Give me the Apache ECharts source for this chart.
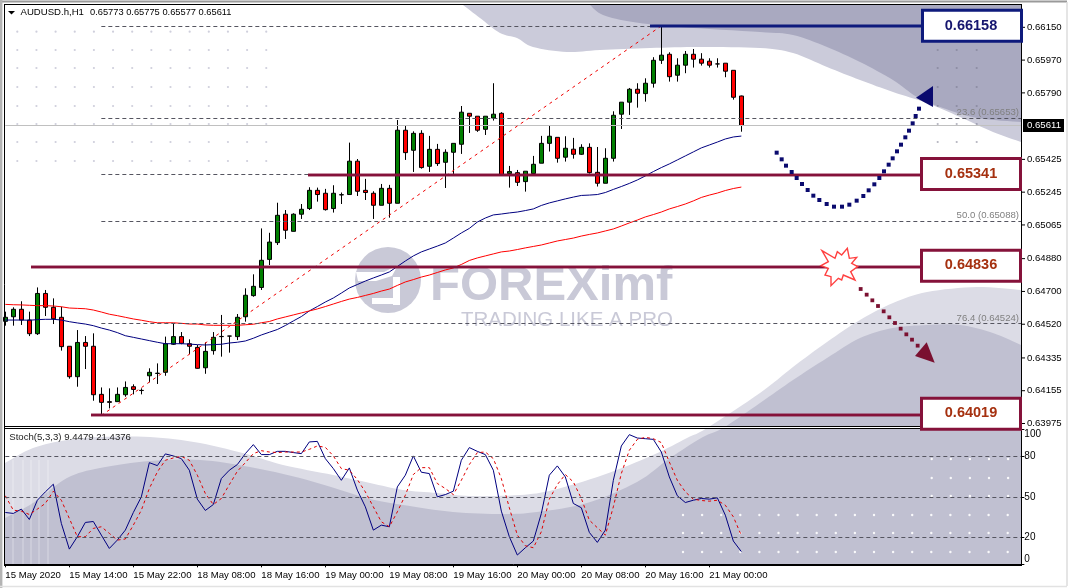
<!DOCTYPE html>
<html><head><meta charset="utf-8">
<style>html,body{margin:0;padding:0;background:#fff}#c{width:1069px;height:588px}</style>
<script src="https://cdn.jsdelivr.net/npm/echarts@6/dist/echarts.min.js"></script>
</head><body><div id="c"></div>
<script>
const tickLabels=['15 May 2020','15 May 14:00','15 May 22:00','18 May 08:00','18 May 16:00','19 May 00:00','19 May 08:00','19 May 16:00','20 May 00:00','20 May 08:00','20 May 16:00','21 May 00:00'];
const priceTicks=[0.66150,0.65970,0.65790,0.65425,0.65245,0.65065,0.64880,0.64700,0.64520,0.64335,0.64155,0.63975];
const stochTicks=[0,20,50,80,100];
const stochLevels=[80,50,20];
const fibLevels=[0.66158,0.65653,0.65341,0.65088,0.64524];
const fibLabels=[['23.6 (0.65653)',0.65653],['50.0 (0.65088)',0.65088],['76.4 (0.64524)',0.64524]];
const keyLevels=[0.66158,0.65341,0.64836,0.64019];
const keyLabels=['0.66158','0.65341','0.64836','0.64019'];
const lastPrice=0.65611;
const opens=[0.64536,0.64561,0.64602,0.64543,0.64468,0.64689,0.64613,0.64558,0.64399,0.64232,0.64420,0.64399,0.64135,0.64095,0.64095,0.64133,0.64177,0.64157,0.64237,0.64250,0.64256,0.64410,0.64452,0.64413,0.64393,0.64281,0.64375,0.64452,0.64455,0.64452,0.64561,0.64677,0.64722,0.64876,0.64968,0.65124,0.65030,0.65124,0.65155,0.65255,0.65239,0.65155,0.65230,0.65232,0.65415,0.65255,0.65239,0.65173,0.65266,0.65184,0.65585,0.65475,0.65568,0.65387,0.65480,0.65409,0.65464,0.65508,0.65678,0.65662,0.65590,0.65652,0.65678,0.65347,0.65352,0.65303,0.65347,0.65404,0.65513,0.65546,0.65437,0.65481,0.65453,0.65491,0.65354,0.65294,0.65431,0.65673,0.65739,0.65810,0.65786,0.65843,0.65969,0.66002,0.65887,0.65942,0.66002,0.65975,0.65964,0.65949,0.65953,0.65914,0.65773];
const closes=[0.64558,0.64602,0.64543,0.64468,0.64689,0.64613,0.64550,0.64397,0.64232,0.64420,0.64399,0.64133,0.64091,0.64091,0.64135,0.64173,0.64162,0.64156,0.64256,0.64251,0.64413,0.64452,0.64415,0.64399,0.64278,0.64371,0.64448,0.64453,0.64455,0.64558,0.64679,0.64728,0.64871,0.64971,0.65118,0.65036,0.65124,0.65151,0.65255,0.65232,0.65149,0.65239,0.65231,0.65415,0.65250,0.65243,0.65173,0.65266,0.65184,0.65585,0.65462,0.65568,0.65380,0.65480,0.65402,0.65464,0.65513,0.65684,0.65662,0.65585,0.65662,0.65673,0.65340,0.65358,0.65299,0.65360,0.65398,0.65513,0.65552,0.65431,0.65486,0.65453,0.65491,0.65352,0.65294,0.65431,0.65667,0.65739,0.65810,0.65788,0.65843,0.65969,0.65997,0.65879,0.65942,0.66002,0.65975,0.65953,0.65942,0.65949,0.65909,0.65766,0.65611];
const lows=[0.64512,0.64512,0.64516,0.64455,0.64461,0.64565,0.64521,0.64375,0.64221,0.64177,0.64274,0.64100,0.64019,0.64058,0.64095,0.64122,0.64135,0.64135,0.64201,0.64192,0.64237,0.64406,0.64410,0.64356,0.64276,0.64248,0.64353,0.64342,0.64364,0.64433,0.64534,0.64671,0.64708,0.64845,0.64955,0.64988,0.65030,0.65098,0.65147,0.65193,0.65144,0.65133,0.65180,0.65232,0.65224,0.65202,0.65098,0.65173,0.65105,0.65184,0.65422,0.65356,0.65374,0.65356,0.65389,0.65268,0.65345,0.65455,0.65570,0.65576,0.65559,0.65638,0.65340,0.65270,0.65279,0.65248,0.65347,0.65404,0.65468,0.65407,0.65413,0.65429,0.65449,0.65347,0.65276,0.65294,0.65413,0.65592,0.65669,0.65709,0.65742,0.65819,0.65949,0.65852,0.65852,0.65898,0.65929,0.65940,0.65929,0.65929,0.65876,0.65753,0.65577];
const highs=[0.64589,0.64613,0.64646,0.64589,0.64722,0.64708,0.64662,0.64616,0.64399,0.64488,0.64455,0.64470,0.64173,0.64168,0.64173,0.64206,0.64190,0.64168,0.64278,0.64305,0.64452,0.64525,0.64477,0.64437,0.64406,0.64420,0.64477,0.64571,0.64456,0.64576,0.64717,0.64794,0.65046,0.65022,0.65187,0.65147,0.65129,0.65180,0.65272,0.65270,0.65263,0.65283,0.65243,0.65517,0.65427,0.65318,0.65250,0.65290,0.65285,0.65641,0.65609,0.65579,0.65585,0.65554,0.65510,0.65480,0.65513,0.65718,0.65678,0.65662,0.65662,0.65843,0.65684,0.65389,0.65367,0.65360,0.65444,0.65554,0.65609,0.65546,0.65552,0.65543,0.65508,0.65513,0.65493,0.65486,0.65689,0.65739,0.65817,0.65843,0.65870,0.65986,0.66158,0.66013,0.65980,0.66020,0.66031,0.66008,0.65980,0.65980,0.65953,0.65914,0.65775];
const maSlow=[0.64629,0.64627,0.64626,0.64624,0.64622,0.64622,0.64620,0.64616,0.64609,0.64607,0.64605,0.64598,0.64587,0.64575,0.64567,0.64558,0.64549,0.64542,0.64534,0.64528,0.64528,0.64528,0.64525,0.64521,0.64521,0.64516,0.64514,0.64514,0.64514,0.64514,0.64517,0.64520,0.64528,0.64535,0.64549,0.64560,0.64571,0.64582,0.64593,0.64604,0.64617,0.64631,0.64645,0.64658,0.64667,0.64678,0.64689,0.64702,0.64713,0.64733,0.64752,0.64765,0.64779,0.64790,0.64804,0.64818,0.64829,0.64848,0.64870,0.64884,0.64895,0.64906,0.64917,0.64922,0.64930,0.64939,0.64947,0.64955,0.64966,0.64977,0.64985,0.64993,0.65004,0.65013,0.65021,0.65032,0.65043,0.65059,0.65076,0.65092,0.65109,0.65122,0.65136,0.65153,0.65166,0.65180,0.65197,0.65216,0.65229,0.65240,0.65254,0.65265,0.65273];
const maFast=[0.64543,0.64543,0.64543,0.64542,0.64545,0.64547,0.64547,0.64543,0.64534,0.64527,0.64521,0.64512,0.64499,0.64488,0.64474,0.64457,0.64448,0.64439,0.64430,0.64421,0.64413,0.64413,0.64413,0.64411,0.64408,0.64406,0.64408,0.64410,0.64417,0.64421,0.64428,0.64443,0.64461,0.64476,0.64491,0.64513,0.64538,0.64562,0.64593,0.64617,0.64642,0.64664,0.64691,0.64719,0.64738,0.64757,0.64774,0.64790,0.64807,0.64837,0.64867,0.64895,0.64917,0.64933,0.64949,0.64966,0.64993,0.65021,0.65046,0.65081,0.65103,0.65120,0.65125,0.65131,0.65136,0.65144,0.65153,0.65172,0.65186,0.65197,0.65208,0.65218,0.65227,0.65229,0.65232,0.65243,0.65260,0.65276,0.65293,0.65312,0.65334,0.65358,0.65380,0.65400,0.65422,0.65444,0.65466,0.65488,0.65504,0.65520,0.65537,0.65548,0.65553];
const stochK=[38.5,37.8,41.0,33.3,47.6,53.8,59.5,30.4,11.3,20.5,31.1,31.8,21.7,11.8,18.0,25.4,38.5,50.1,75.5,73.3,82.0,80.5,78.5,69.9,48.4,40.0,44.4,63.7,69.9,74.1,82.2,88.9,81.5,81.5,83.9,83.9,83.0,82.2,90.9,91.3,78.5,71.1,62.4,71.6,55.1,42.7,25.4,29.1,27.9,57.5,66.2,80.5,68.4,67.4,50.1,51.8,54.3,77.3,86.7,83.9,81.5,69.9,39.5,20.5,6.9,12.3,17.3,37.8,66.2,73.1,64.9,45.2,42.0,23.7,16.3,25.4,62.4,87.9,96.3,93.8,93.3,92.8,83.4,64.9,50.9,45.9,47.6,48.9,48.4,49.4,36.5,17.3,9.45];
const stochD=[50.9,40.2,39.5,37.0,41.0,45.2,54.3,47.6,34.1,20.5,20.5,26.7,27.9,23.0,18.0,18.8,29.1,40.2,56.3,68.6,77.3,79.0,80.2,77.3,66.2,52.6,44.4,48.9,59.2,69.1,75.5,82.2,84.4,83.4,83.0,83.4,83.4,83.4,85.4,87.9,86.9,80.5,71.1,69.9,63.0,53.8,42.7,31.6,27.9,39.0,51.3,66.7,71.8,71.8,60.0,56.3,51.8,62.4,74.1,83.0,83.4,78.5,63.7,42.0,21.7,13.8,12.3,24.2,48.4,59.2,66.7,61.2,48.9,32.8,27.2,21.7,42.7,67.4,84.7,92.8,94.3,93.3,90.4,76.0,62.4,53.8,48.4,47.4,46.9,47.6,43.9,35.3,21.44];

const BARS=128, TICK_EVERY=8;
const categories=Array.from({length:BARS},(_,i)=>(i%TICK_EVERY===0&&tickLabels[i/TICK_EVERY])||'');
const showTick=i=>categories[i]!=='';
const FONT='"Liberation Sans",Arial,sans-serif';
const candles=opens.map((o,i)=>[o,closes[i],lows[i],highs[i]]);
const DASH='#555560';
const mkLine=(data,style)=>({silent:true,symbol:'none',animation:false,label:{show:false},emphasis:{disabled:true},lineStyle:style,data});

const chart=echarts.init(document.getElementById('c'),null,{renderer:'canvas'});
chart.setOption({
  animation:false,backgroundColor:'#fff',
  grid:[{left:5.33,right:47.67,top:5,height:422},{left:5.33,right:47.67,top:429,height:136}],
  xAxis:[
    {type:'category',gridIndex:0,data:categories,boundaryGap:false,axisLine:{show:false},axisTick:{show:false},axisLabel:{show:false},splitLine:{show:false}},
    {type:'category',gridIndex:1,data:categories,boundaryGap:false,axisLine:{show:true,lineStyle:{color:'#000'}},
      axisTick:{show:true,interval:showTick,length:3,lineStyle:{color:'#000'}},
      axisLabel:{show:true,interval:showTick,align:'left',margin:5,color:'#000',fontFamily:FONT,fontSize:9.6,hideOverlap:false},splitLine:{show:false}}
  ],
  yAxis:[
    {type:'value',gridIndex:0,position:'right',min:0.639558,max:0.662725,splitLine:{show:false},axisLine:{show:true,lineStyle:{color:'#000'}},axisTick:{show:false},axisLabel:{show:false}},
    {type:'value',gridIndex:1,position:'right',min:-0.5,max:100.5,splitLine:{show:false},axisLine:{show:true,lineStyle:{color:'#000'}},
     axisTick:{show:true,length:3,customValues:stochTicks,lineStyle:{color:'#000'}},
     axisLabel:{show:true,customValues:stochTicks,margin:3,color:'#000',fontFamily:FONT,fontSize:10,verticalAlignMinLabel:'bottom',verticalAlignMaxLabel:'top',formatter:v=>String(v)}}
  ],
  series:[
    {type:'line',name:'levels',xAxisIndex:0,yAxisIndex:0,z:1,data:[],silent:true,
      markLine:mkLine(fibLevels.map(v=>[{coord:[12,v]},{coord:[BARS-1,v]}]),{color:DASH,type:[4,3],width:1})},
    {type:'line',name:'current',xAxisIndex:0,yAxisIndex:0,z:1,data:[],silent:true,
      markLine:mkLine([[{coord:[0,lastPrice]},{coord:[BARS-1,lastPrice]}]],{color:'#c0c0c0',type:'solid',width:1})},
    {type:'line',name:'fib trend',xAxisIndex:0,yAxisIndex:0,z:1,data:[],silent:true,
      markLine:mkLine([[{coord:[12,keyLevels[3]]},{coord:[82,keyLevels[0]]}]],{color:'#f00000',type:[3,4],width:1})},
    {type:'candlestick',name:'AUDUSD.h,H1',xAxisIndex:0,yAxisIndex:0,z:2,data:candles,barWidth:5,silent:true,
      itemStyle:{color:'#007f00',color0:'#ff0000',borderColor:'#000',borderColor0:'#000',borderColorDoji:'#000',borderWidth:1}},
    {type:'line',name:'MA fast',xAxisIndex:0,yAxisIndex:0,z:3,data:maFast,showSymbol:false,silent:true,lineStyle:{color:'#00007f',width:1}},
    {type:'line',name:'MA slow',xAxisIndex:0,yAxisIndex:0,z:3,data:maSlow,showSymbol:false,silent:true,lineStyle:{color:'#ff0000',width:1}},
    {type:'line',name:'stoch levels',xAxisIndex:1,yAxisIndex:1,z:1,data:[],silent:true,
      markLine:mkLine(stochLevels.map(v=>[{coord:[0,v]},{coord:[BARS-1,v]}]),{color:DASH,type:[4,3],width:1})},
    {type:'line',name:'%K',xAxisIndex:1,yAxisIndex:1,z:3,data:stochK,showSymbol:false,silent:true,lineStyle:{color:'#00007f',width:1}},
    {type:'line',name:'%D',xAxisIndex:1,yAxisIndex:1,z:3,data:stochD,showSymbol:false,silent:true,lineStyle:{color:'#e00000',width:1,type:[3,3]}}
  ]
});

/* decorative backdrop and annotations */
const Y=v=>chart.convertToPixel({yAxisIndex:0},v);
const g=[];
const poly=(points,fill,z,extra)=>g.push({type:'polygon',silent:true,z,shape:{points},style:Object.assign({fill},extra||{})});
const rect=(x,y,w,h,fill,z,extra)=>g.push({type:'rect',silent:true,z,shape:{x,y,width:w,height:h},style:Object.assign({fill},extra||{})});
const line=(x1,y1,x2,y2,stroke,width,z)=>g.push({type:'line',silent:true,z,shape:{x1,y1,x2,y2},style:{stroke,lineWidth:width}});
const text=(t,x,y,font,fill,z,align)=>g.push({type:'text',silent:true,z,x,y,style:{text:t,font,fill,textAlign:align||'left',textVerticalAlign:'middle',verticalAlign:'middle',align:align||'left'}});
const dot=(x,y,r,fill,z)=>g.push({type:'circle',silent:true,z,shape:{cx:x,cy:y,r},style:{fill}});
/* rounds a backdrop outline into a soft curve */
const soft=pts=>{const o=[];for(let i=0;i<pts.length-1;i++){const a=pts[Math.max(i-1,0)],b=pts[i],c=pts[i+1],d=pts[Math.min(i+2,pts.length-1)];
  for(let k=0;k<8;k++){const t=k/8,t2=t*t,t3=t2*t;o.push([0,1].map(j=>0.5*(2*b[j]+(c[j]-a[j])*t+(2*a[j]-5*b[j]+4*c[j]-d[j])*t2+(3*b[j]-a[j]-3*c[j]+d[j])*t3)));}}
  o.push(pts[pts.length-1]);return o;};

poly([...soft([[463,5],[480,18],[500,33],[517,38],[533,47],[567,52],[600,50],[650,48],[700,47],[760,48],[793,53],[827,67],[860,80],[893,92],[927,103],[960,117],[993,132],[1021,142]]),[1021,5]],'#cbcbda',0);
poly([...soft([[590,5],[603,15],[633,22],[680,27],[760,32],[793,35],[827,47],[860,62],[893,80],[917,97],[943,108],[977,118],[1021,122]]),[1021,5]],'#a9a9c0',0);
poly([...soft([[5,463],[33,448],[67,440],[100,437],[150,437],[200,443],[250,455],[283,465],[333,475],[370,483],[403,490],[437,493],[470,496],[520,495],[553,490],[603,475],[653,455],[687,438],[707,428],[760,393],[793,367],[827,342],[860,320],[893,303],[927,292],[977,287],[1021,290]]),[1021,565],[5,565]],'#dcdce6',0);
poly([...soft([[5,518],[33,503],[67,478],[100,468],[150,461],[200,460],[250,467],[300,478],[350,493],[370,499],[403,505],[453,512],[503,514],[537,512],[587,503],[637,482],[670,458],[703,437],[723,428],[760,403],[793,380],[827,358],[860,338],[893,328],[927,325],[960,325],[993,333],[1021,345]]),[1021,565],[5,565]],'#c0c0d1',0);
[13,23,31,39,48].forEach(x=>line(x,460,x,565,'rgba(255,255,255,.4)',1,0));
rect(4,427,1018,2,'#fff',0);

for(let r=0;r<8;r++)for(let c=0;c<14;c++)dot(17.3+19.15*c,[31.7,50,68,87,106,124,142,161][r],1.1,'#cfcfdc',0);
[50,68,87,106,124,142].forEach(y=>[937.7,956.7,976.7].forEach(x=>dot(x,y,1.1,'rgba(120,120,140,.55)',0)));
[515,533,552].forEach(y=>{for(let c=0;c<18;c++)dot(683+19.1*c,y,1.2,'rgba(255,255,255,.9)',0)});
[459,478,496].forEach(y=>{for(let c=0;c<5;c++)dot(931.7+19.1*c,y,1.2,'rgba(255,255,255,.9)',0)});

/* watermark */
const W='#c9c9d7';
g.push({type:'circle',silent:true,z:0,shape:{cx:388,cy:280,r:33},style:{fill:W}});
poly([[356,272],[384,272],[398,265],[392,276],[376,281],[358,281]],'#fff',0);
rect(393,277,7,28,'#fff',0);
rect(372,298,22,6,'#fff',0);
text('FOREXimf',430,286,'bold 49px "Liberation Sans",Arial,sans-serif',W,0);
text('TRADING LIKE A PRO',461,320,'20.5px "Liberation Sans",Arial,sans-serif',W,0);

/* frame and page edges */
line(0,1.5,1067,1.5,'#9a9a9a',2,5);
line(1.2,0,1.2,588,'#b4b4b4',2.4,5);
line(1067,2,1067,586,'#dcdcdc',1.5,5);
line(0,586.5,1067,586.5,'#e2e2e2',1.5,5);
line(4,4.5,1022,4.5,'#000',1,6);
line(4.5,4,4.5,565.5,'#000',1,6);
line(4,426.5,1022,426.5,'#000',1,6);
line(4,428.5,1022,428.5,'#000',1,6);
line(1021.5,4,1021.5,565.5,'#000',1,6);
line(4,565.5,1022,565.5,'#000',1,6);

/* header texts */
poly([[8,11],[15,11],[11.5,14.5]],'#000',7);
text('AUDUSD.h,H1',20.5,12.5,'9.6px '+FONT,'#000',7);
text('0.65773 0.65775 0.65577 0.65611',90,12.5,'9.3px '+FONT,'#000',7);
text('Stoch(5,3,3) 9.4479 21.4376',9.3,437.5,'9.6px '+FONT,'#222',7);

/* price scale labels */
priceTicks.forEach(v=>{const y=Y(v);line(1022,y,1025,y,'#000',1,7);text(v.toFixed(5),1027,y,'9.6px '+FONT,'#000',7)});
{const y=Y(lastPrice);rect(1023,y-6.5,41,13,'#000',8);text(lastPrice.toFixed(5),1027,y,'9.6px '+FONT,'#fff',9);}

/* fibonacci captions */
fibLabels.forEach(([t,v])=>text(t,1019,Y(v)-5.5,'9.6px '+FONT,'#808080',4,'right'));

/* key levels with boxes */
const NAVY='#0e1a7c', WINE='#85123a', RUST='#a5300f';
const starts=[650,308,31,91];
const boxY=[25.8,174,265.8,413.8];
keyLevels.forEach((v,i)=>{
  const y=Math.round(Y(v)), col=i===0?NAVY:WINE, tc=i===0?'#15156e':RUST;
  if(i>0)line(starts[i],y,921,y,'rgba(133,18,58,.45)',4,10);
  line(starts[i],y,921,y,col,i===0?3:2,10);
  const by=boxY[i];
  rect(i===0?922.5:921.5,by-15.5,99,31,'#fff',11,{stroke:col,lineWidth:3});
  text(keyLabels[i],971,by-(i===0?0:0.5),'bold 14.5px '+FONT,tc,12,'center');
});

/* scenario arrows */
const blueDots=[[50,458],[65,478],[78,497],[95,516],[110,534],[126,552],[143,570],[160,587],[178,600],[200,612],[222,620],[246,620],[268,614],[290,602],[310,588],[326,571],[343,553],[358,534],[372,514],[386,494],[398,475],[411,454],[423,434],[436,412],[447,392],[458,370],[467,348],[477,326]];
blueDots.forEach(([X,Yz])=>rect(760+X/3-2,Yz/3-2,4,4,'#0a0a6e',13));
poly([[916,97.7],[933,86],[933,107]],'#0a0a6e',13);
const redDots=[[302,177],[320,194],[337,211],[354,228],[371,244],[388,262],[405,279],[422,296],[439,313],[456,329],[473,347]];
redDots.forEach(([X,Yz])=>rect(760+X/3-1.9,230+Yz/3-1.9,3.8,3.8,'#7a1030',13));
poly([[915,356],[926.7,342.3],[934.7,362.7]],'#7a1030',13);
poly([[186,62],[225,85],[232,65],[245,75],[262,55],[268,85],[290,82],[275,100],[293,110],[272,125],[285,150],[250,135],[245,150],[235,145],[213,167],[213,140],[195,135],[205,115],[183,107],[205,95]].map(([X,Yz])=>[760+X/3,230+Yz/3]),'#fff',14,{stroke:'#ff4040',lineWidth:1.4});

chart.setOption({graphic:{elements:g}});
</script></body></html>
